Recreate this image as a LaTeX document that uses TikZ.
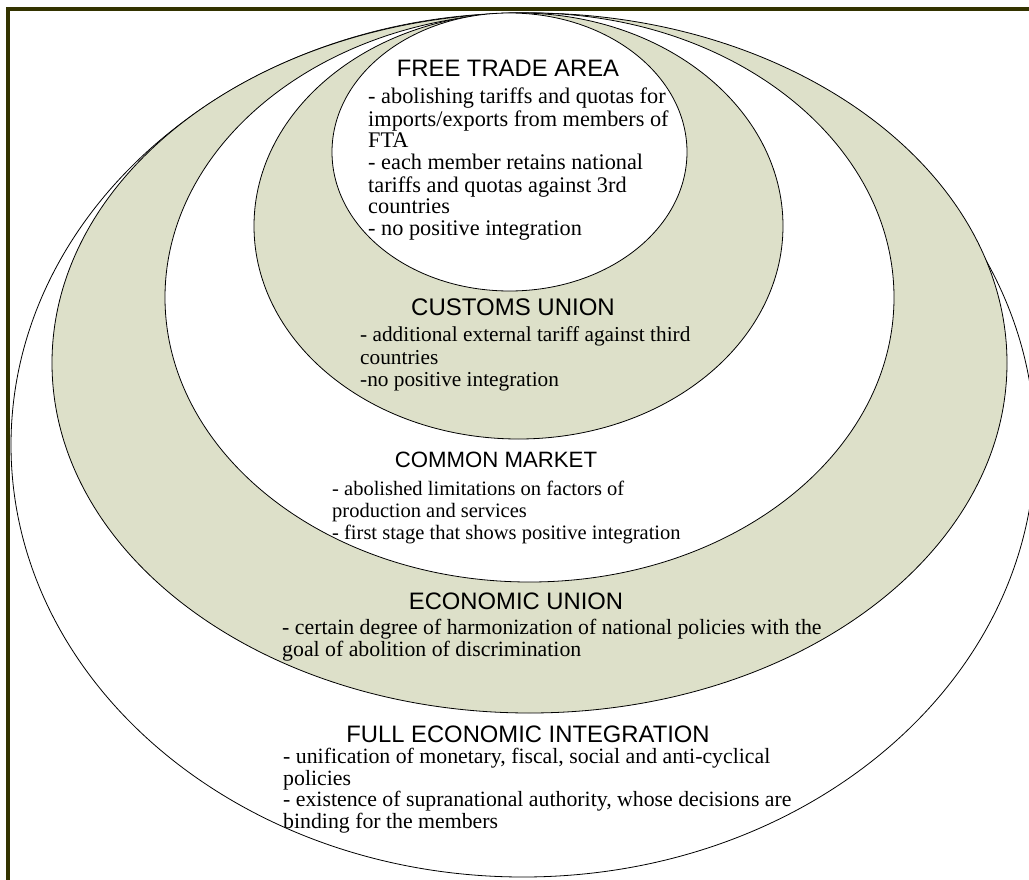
\documentclass[tikz,border=0pt]{standalone}
\usepackage{fontspec}
\setmainfont{Liberation Serif}
\newfontfamily\arialf{Liberation Sans}
\definecolor{olivegreen}{RGB}{221,224,201}
\definecolor{framecol}{RGB}{51,51,0}
\newcommand\myblock[3]{\fontsize{#1}{#2}\selectfont\begin{tabular}[t]{@{}l@{}}#3\end{tabular}}
\begin{document}
\begin{tikzpicture}[x=1pt,y=-1pt,
  ring/.style={draw=black,line width=0.8pt},
  greenring/.style={ring,fill=olivegreen},
  whitering/.style={ring,fill=white},
  title/.style={anchor=base,inner sep=0pt,font=\arialf\fontsize{23.8}{26}\selectfont},
  body/.style={anchor=base west,inner sep=0pt}]
\useasboundingbox (0,0) rectangle (1029,880);
\begin{scope}
\clip (0,0) rectangle (1029,880);
\fill[white] (0,0) rectangle (1029,880);
\draw[whitering] (523,445) ellipse [x radius=512, y radius=432];
\draw[greenring] (529.5,363) ellipse [x radius=477.5, y radius=350];
\draw[whitering] (529.5,297.5) ellipse [x radius=364.5, y radius=284.5];
\draw[greenring] (518.5,226) ellipse [x radius=264.5, y radius=213];
\draw[whitering] (509.5,152) ellipse [x radius=177.5, y radius=139];
\draw[framecol,line width=4pt] (8,9) rectangle (1060,900);
\end{scope}
\node[title] (ftat) at (508,76.5) {FREE TRADE AREA};
\node[body] (ftab) at (368,104) {\myblock{22.3}{21.7}{- abolishing tariffs and quotas for\\imports/exports from members of\\FTA\\- each member retains national\\tariffs and quotas against 3rd\\countries\\- no positive integration}};
\node[title,font=\arialf\fontsize{24}{26}\selectfont] (cut) at (513,315.5) {CUSTOMS UNION};
\node[body] (cub) at (360,341.5) {\myblock{21.3}{22.5}{- additional external tariff against third\\countries\\-no positive integration}};
\node[title,font=\arialf\fontsize{22.2}{25}\selectfont] (cmt) at (496,467.5) {COMMON MARKET};
\node[body] (cmb) at (332,495) {\myblock{20.5}{22}{- abolished limitations on factors of\\production and services\\- first stage that shows positive integration}};
\node[title] (eut) at (516,609) {ECONOMIC UNION};
\node[body] (eub) at (282,634.5) {\myblock{21.8}{21}{- certain degree of harmonization of national policies with the\\goal of abolition of discrimination}};
\node[title] (feit) at (528,742) {FULL ECONOMIC INTEGRATION};
\node[body] (feib) at (283,763.5) {\myblock{21.8}{21.5}{- unification of monetary, fiscal, social and anti-cyclical\\policies\\- existence of supranational authority, whose decisions are\\binding for the members}};
\end{tikzpicture}
\end{document}
